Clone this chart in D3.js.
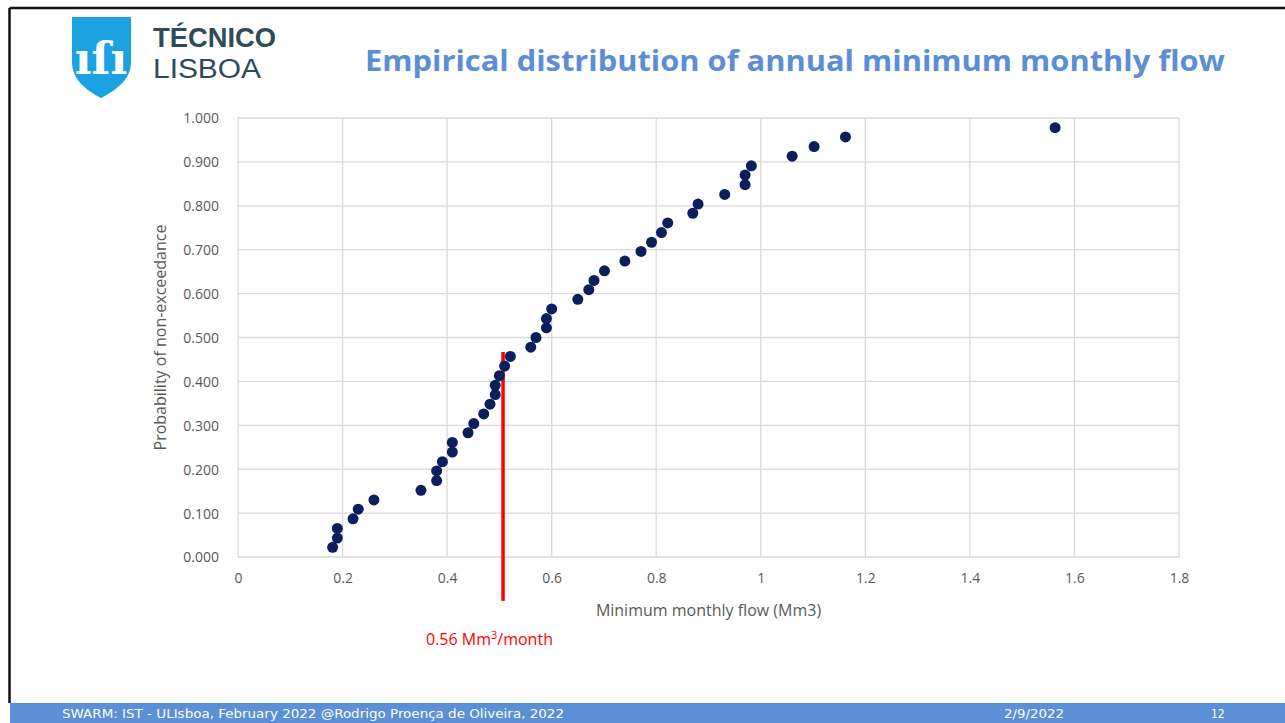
<!DOCTYPE html>
<html>
<head>
<meta charset="utf-8">
<script src="https://cdn.jsdelivr.net/npm/d3@7"></script>
<style>
  html, body { margin: 0; padding: 0; background: #fff; }
  svg { display: block; font-family: "Open Sans", "Noto Sans", sans-serif; }
</style>
</head>
<body>
<div id="chart"></div>
<script>
// Data
const flow = [0.181, 0.190, 0.190, 0.220, 0.230, 0.260, 0.350, 0.380, 0.380, 0.391,
  0.410, 0.410, 0.440, 0.451, 0.470, 0.482, 0.492, 0.492, 0.500, 0.510,
  0.521, 0.560, 0.570, 0.590, 0.590, 0.600, 0.650, 0.671, 0.681, 0.701,
  0.740, 0.771, 0.791, 0.810, 0.822, 0.870, 0.880, 0.931, 0.970, 0.970,
  0.982, 1.060, 1.102, 1.162, 1.563];
const prob = [0.022, 0.043, 0.065, 0.087, 0.109, 0.130, 0.152, 0.174, 0.196, 0.217,
  0.239, 0.261, 0.283, 0.304, 0.326, 0.348, 0.370, 0.391, 0.413, 0.435,
  0.457, 0.478, 0.500, 0.522, 0.543, 0.565, 0.587, 0.609, 0.630, 0.652,
  0.674, 0.696, 0.717, 0.739, 0.761, 0.783, 0.804, 0.826, 0.848, 0.870,
  0.891, 0.913, 0.935, 0.957, 0.978];
const xTicks = [0, 0.2, 0.4, 0.6, 0.8, 1, 1.2, 1.4, 1.6, 1.8];
const yTicks = [0, 0.1, 0.2, 0.3, 0.4, 0.5, 0.6, 0.7, 0.8, 0.9, 1.0];
const markerFlow = 0.507;          // where the red line is drawn
const markerProb = [0.467, -0.1];  // top and bottom of the red line
const markerLabel = "0.56 Mm";

const W = 1285, H = 723;
const plot = { left: 238, right: 1179, top: 118, bottom: 557 };

const svg = d3.select("#chart").append("svg")
  .attr("width", W)
  .attr("height", H);

// Slide frame
svg.append("line")
  .attr("x1", 9.5).attr("x2", W).attr("y1", 8).attr("y2", 8)
  .style("stroke", "#111").style("stroke-width", 2.5);
svg.append("line")
  .attr("x1", 9.5).attr("x2", 9.5).attr("y1", 8).attr("y2", 703)
  .style("stroke", "#111").style("stroke-width", 2.5);

// Footer bar
svg.append("rect")
  .attr("x", 10).attr("y", 703).attr("width", W - 10).attr("height", 20)
  .style("fill", "#5B8FD6");
const footer = svg.append("g")
  .style("font-family", "'Liberation Sans Narrow', 'DejaVu Sans Condensed', sans-serif")
  .style("font-size", "12px")
  .style("fill", "#fff");
footer.append("text").attr("x", 62).attr("y", 718)
  .attr("textLength", 502).attr("lengthAdjust", "spacingAndGlyphs")
  .text("SWARM: IST - ULIsboa, February 2022  @Rodrigo Proença de Oliveira, 2022");
footer.append("text").attr("x", 1004).attr("y", 718)
  .attr("textLength", 60).attr("lengthAdjust", "spacingAndGlyphs")
  .text("2/9/2022");
footer.append("text").attr("x", 1211).attr("y", 718).text("12");

// Logo
const logo = svg.append("g");
logo.append("path")
  .attr("d", "M72,17 L131,17 L131,62 C131,80 116,90 101,98 C86,90 72,80 72,62 Z")
  .style("fill", "#1AA3E0");
logo.append("text")
  .attr("x", 101).attr("y", 74)
  .attr("text-anchor", "middle")
  .style("font-family", "'DejaVu Serif', serif")
  .style("font-size", "44px")
  .style("font-weight", "bold")
  .style("fill", "#fff")
  .text("ıſı");
logo.append("text")
  .attr("x", 153).attr("y", 47)
  .attr("textLength", 123).attr("lengthAdjust", "spacingAndGlyphs")
  .style("font-family", "'Liberation Sans', sans-serif")
  .style("font-size", "27px")
  .style("font-weight", "bold")
  .style("fill", "#2F4A58")
  .text("TÉCNICO");
logo.append("text")
  .attr("x", 153).attr("y", 78)
  .attr("textLength", 108).attr("lengthAdjust", "spacingAndGlyphs")
  .style("font-family", "'Liberation Sans', sans-serif")
  .style("font-size", "27px")
  .style("fill", "#2F4A58")
  .text("LISBOA");

// Title
svg.append("text")
  .attr("x", 365).attr("y", 71)
  .attr("textLength", 860).attr("lengthAdjust", "spacingAndGlyphs")
  .style("font-size", "29px")
  .style("font-weight", "bold")
  .style("fill", "#5B8ED6")
  .text("Empirical distribution of annual minimum monthly flow");

// Scales
const x = d3.scaleLinear().domain([0, 1.8]).range([plot.left, plot.right]);
const y = d3.scaleLinear().domain([0, 1]).range([plot.bottom, plot.top]);

// Grid
svg.append("g").selectAll("line")
  .data(yTicks)
  .join("line")
  .attr("x1", plot.left).attr("x2", plot.right)
  .attr("y1", d => y(d)).attr("y2", d => y(d))
  .style("stroke", "#d9d9d9").style("stroke-width", 1.3);
svg.append("g").selectAll("line")
  .data(xTicks)
  .join("line")
  .attr("x1", d => x(d)).attr("x2", d => x(d))
  .attr("y1", plot.top).attr("y2", plot.bottom)
  .style("stroke", "#d9d9d9").style("stroke-width", 1.3);

// Axes (labels only, Excel style)
const xAxis = svg.append("g")
  .attr("transform", `translate(0,${plot.bottom + 13})`)
  .call(d3.axisBottom(x).tickValues(xTicks).tickFormat(d3.format("")).tickSize(0));
const yAxis = svg.append("g")
  .attr("transform", `translate(${plot.left - 16},0)`)
  .call(d3.axisLeft(y).tickValues(yTicks).tickFormat(d3.format(".3f")).tickSize(0));
[xAxis, yAxis].forEach(a => {
  a.select(".domain").remove();
  a.selectAll("text")
    .style("font-family", "'Open Sans', sans-serif")
    .style("font-size", "14px")
    .style("fill", "#595959");
});
yAxis.selectAll("text").attr("dy", "0.35em");

// Axis titles
svg.append("text")
  .attr("x", (plot.left + plot.right) / 2).attr("y", 616)
  .attr("text-anchor", "middle")
  .style("font-size", "16px")
  .style("fill", "#595959")
  .text("Minimum monthly flow (Mm3)");
svg.append("text")
  .attr("transform", "rotate(-90)")
  .attr("x", -(plot.top + plot.bottom) / 2).attr("y", 166)
  .attr("text-anchor", "middle")
  .style("font-size", "16px")
  .style("fill", "#595959")
  .text("Probability of non-exceedance");

// Red marker line
svg.append("line")
  .attr("x1", x(markerFlow)).attr("x2", x(markerFlow))
  .attr("y1", y(markerProb[0])).attr("y2", y(markerProb[1]))
  .style("stroke", "#FF0000").style("stroke-width", 3.5);

// Points
svg.append("g").selectAll("circle")
  .data(flow.map((f, i) => ({ f, p: prob[i] })))
  .join("circle")
  .attr("cx", d => x(d.f))
  .attr("cy", d => y(d.p))
  .attr("r", 5.5)
  .style("fill", "#0A1F5C");

// Red annotation
const ann = svg.append("text")
  .attr("x", 426).attr("y", 645)
  .style("font-size", "16px")
  .style("fill", "#FF0000");
ann.append("tspan").text(markerLabel);
ann.append("tspan").attr("dy", -6).style("font-size", "11px").text("3");
ann.append("tspan").attr("dy", 6).text("/month");
</script>
</body>
</html>
